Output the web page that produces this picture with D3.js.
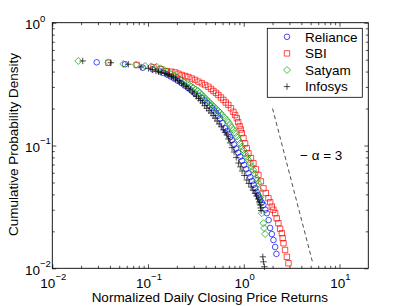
<!DOCTYPE html>
<html>
<head>
<meta charset="utf-8">
<script src="https://cdn.jsdelivr.net/npm/d3@7"></script>
<style>
  body { margin: 0; background: #fff; }
  svg { display: block; font-family: "Liberation Sans", Arial, Helvetica, sans-serif; }
</style>
</head>
<body>
<div id="container"></div>
<script>
/* CONSTANTS AND GLOBALS */
const width = 407,
  height = 306,
  margin = { top: 22.7, bottom: 37.7, left: 52.3, right: 38.7 },
  innerW = width - margin.left - margin.right,
  innerH = height - margin.top - margin.bottom,
  fontSize = 13.5;

/* DATA */
const seriesNames = ["Reliance", "SBI", "Satyam", "Infosys"];
const seriesColors = ["#0000ff", "#ff0000", "#00a000", "#000000"];

const reliance = [
  [0.0291, 0.476], [0.0575, 0.459], [0.0881, 0.430], [0.112, 0.417], [0.134, 0.401],
  [0.145, 0.390], [0.158, 0.379], [0.172, 0.365], [0.187, 0.351], [0.204, 0.337],
  [0.222, 0.323], [0.241, 0.308], [0.262, 0.294], [0.285, 0.280], [0.310, 0.265],
  [0.337, 0.254], [0.365, 0.244], [0.390, 0.233], [0.414, 0.222], [0.440, 0.212],
  [0.467, 0.202], [0.490, 0.193], [0.514, 0.184], [0.540, 0.175], [0.566, 0.166],
  [0.600, 0.152], [0.638, 0.138], [0.667, 0.131], [0.695, 0.124], [0.722, 0.117],
  [0.750, 0.111], [0.790, 0.102], [0.832, 0.0945], [0.873, 0.0875], [0.916, 0.0810],
  [0.960, 0.0750], [1.009, 0.0694], [1.06, 0.0642], [1.119, 0.0594], [1.17, 0.0553],
  [1.223, 0.0514], [1.27, 0.0480], [1.315, 0.0448], [1.36, 0.0420], [1.413, 0.0395],
  [1.45, 0.0377], [1.483, 0.0360], [1.545, 0.0343], [1.605, 0.0328], [1.68, 0.0300],
  [1.742, 0.0281], [1.819, 0.0247], [1.886, 0.0213], [1.964, 0.0190], [2.042, 0.0170],
  [2.128, 0.0149], [2.194, 0.0131]
];

const sbi = [
  [0.0385, 0.472], [0.0762, 0.452], [0.114, 0.433], [0.135, 0.418], [0.157, 0.404],
  [0.175, 0.399], [0.192, 0.394], [0.208, 0.384], [0.225, 0.375], [0.245, 0.368],
  [0.264, 0.361], [0.287, 0.351], [0.310, 0.342], [0.337, 0.331], [0.365, 0.321],
  [0.395, 0.311], [0.427, 0.301], [0.455, 0.289], [0.482, 0.278], [0.512, 0.268],
  [0.543, 0.258], [0.578, 0.246], [0.613, 0.235], [0.650, 0.224], [0.691, 0.214],
  [0.735, 0.201], [0.780, 0.188], [0.813, 0.177], [0.846, 0.167], [0.875, 0.155],
  [0.905, 0.144], [0.930, 0.135], [0.954, 0.126], [0.993, 0.115], [1.033, 0.104],
  [1.075, 0.095], [1.119, 0.0864], [1.19, 0.079], [1.262, 0.0716], [1.34, 0.064],
  [1.423, 0.0575], [1.51, 0.051], [1.605, 0.0448], [1.70, 0.041], [1.811, 0.0372],
  [1.89, 0.0345], [1.964, 0.0318], [2.04, 0.030], [2.128, 0.0281], [2.21, 0.0255],
  [2.30, 0.0233], [2.40, 0.021], [2.50, 0.0193], [2.55, 0.0176], [2.60, 0.0160],
  [2.70, 0.0141], [2.82, 0.0124], [2.93, 0.0110]
];

const satyam = [
  [0.0187, 0.488], [0.0385, 0.476], [0.0552, 0.461], [0.0750, 0.455], [0.0931, 0.444],
  [0.108, 0.441], [0.123, 0.438], [0.135, 0.425], [0.147, 0.412], [0.158, 0.400],
  [0.170, 0.387], [0.185, 0.373], [0.200, 0.360], [0.217, 0.344], [0.234, 0.329],
  [0.251, 0.320], [0.269, 0.311], [0.283, 0.302], [0.298, 0.294], [0.315, 0.286],
  [0.333, 0.278], [0.349, 0.268], [0.365, 0.258], [0.384, 0.248], [0.404, 0.239],
  [0.424, 0.230], [0.445, 0.222], [0.467, 0.214], [0.490, 0.206], [0.516, 0.198],
  [0.543, 0.191], [0.568, 0.184], [0.594, 0.177], [0.628, 0.169], [0.665, 0.161],
  [0.692, 0.154], [0.720, 0.147], [0.750, 0.140], [0.780, 0.134], [0.812, 0.126],
  [0.846, 0.118], [0.880, 0.111], [0.916, 0.104], [0.953, 0.098], [0.992, 0.0919],
  [1.033, 0.086], [1.076, 0.0810], [1.12, 0.0765], [1.165, 0.0720], [1.21, 0.0675],
  [1.253, 0.0632], [1.30, 0.0588], [1.347, 0.0544], [1.385, 0.052], [1.423, 0.0492],
  [1.44, 0.0434], [1.483, 0.0377], [1.50, 0.0338], [1.545, 0.0281], [1.605, 0.0233],
  [1.63, 0.0213], [1.672, 0.0190]
];

const infosys = [
  [0.0208, 0.488], [0.0408, 0.472], [0.0623, 0.459], [0.0846, 0.436], [0.101, 0.425],
  [0.111, 0.415], [0.121, 0.404], [0.129, 0.398], [0.137, 0.393], [0.151, 0.386],
  [0.158, 0.379], [0.166, 0.372], [0.175, 0.365], [0.184, 0.357], [0.194, 0.347],
  [0.204, 0.338], [0.214, 0.330], [0.225, 0.321], [0.237, 0.311], [0.250, 0.302],
  [0.262, 0.292], [0.275, 0.283], [0.289, 0.273], [0.303, 0.263], [0.319, 0.252],
  [0.336, 0.242], [0.354, 0.232], [0.372, 0.222], [0.391, 0.211], [0.411, 0.201],
  [0.433, 0.192], [0.456, 0.184], [0.479, 0.175], [0.502, 0.167], [0.527, 0.158],
  [0.553, 0.150], [0.583, 0.142], [0.613, 0.134], [0.638, 0.128], [0.665, 0.122],
  [0.692, 0.113], [0.720, 0.105], [0.755, 0.096], [0.793, 0.0885], [0.835, 0.080],
  [0.880, 0.0720], [0.92, 0.067], [0.961, 0.0620], [1.015, 0.057], [1.076, 0.0524],
  [1.13, 0.049], [1.194, 0.0459], [1.25, 0.0432], [1.315, 0.0408], [1.36, 0.0388],
  [1.413, 0.0367], [1.45, 0.0347], [1.483, 0.0328], [1.50, 0.031], [1.52, 0.0295],
  [1.582, 0.0124], [1.605, 0.0113], [1.644, 0.0103]
];

// slope -3 guide line
const guideLine = [[2.0, 0.2], [5.2, 0.0114]];
const guideLabel = "\u2212 \u03b1 = 3";

// axes
const xDomain = [0.01, 20];
const yDomain = [0.01, 1];
const xMajor = [0.01, 0.1, 1, 10];
const xMajorExp = ["\u22122", "\u22121", "0", "1"];
const xMinor = [0.02, 0.03, 0.04, 0.05, 0.06, 0.07, 0.08, 0.09,
  0.2, 0.3, 0.4, 0.5, 0.6, 0.7, 0.8, 0.9, 2, 3, 4, 5, 6, 7, 8, 9];
const yMajor = [0.01, 0.1, 1];
const yMajorExp = ["\u22122", "\u22121", "0"];
const yMinor = [0.02, 0.03, 0.04, 0.05, 0.06, 0.07, 0.08, 0.09,
  0.2, 0.3, 0.4, 0.5, 0.6, 0.7, 0.8, 0.9];

const xTitle = "Normalized Daily Closing Price Returns";
const yTitle = "Cumulative Probability Density";

/* MARKER SHAPES */
function markerPath(kind) {
  if (kind === 0) { const r = 2.8; return `M${r},0A${r},${r} 0 1,1 ${-r},0A${r},${r} 0 1,1 ${r},0Z`; }
  if (kind === 1) { const s = 2.7; return `M${-s},${-s}H${s}V${s}H${-s}Z`; }
  if (kind === 2) { const d = 3.5; return `M0,${-d}L${d},0L0,${d}L${-d},0Z`; }
  const p = 3.2; return `M${-p},0H${p}M0,${-p}V${p}`;
}

/* SCALES */
const xScale = d3.scaleLog().domain(xDomain).range([0, innerW]);
const yScale = d3.scaleLog().domain(yDomain).range([innerH, 0]);

/* SVG */
const svg = d3.select("#container").append("svg")
  .attr("width", width)
  .attr("height", height);

const g = svg.append("g")
  .attr("transform", `translate(${margin.left},${margin.top})`);

// + AXES (ticks point inward, on all four sides)
function tickAxis(axisFn, values, size, transform) {
  const a = g.append("g")
    .attr("transform", transform)
    .call(axisFn.tickValues(values).tickSize(-size).tickFormat(""));
  a.select(".domain").remove();
  a.selectAll(".tick line").attr("stroke", "#000").attr("stroke-width", 0.7);
  a.selectAll(".tick text").remove();
  return a;
}
tickAxis(d3.axisBottom(xScale), xMinor, 2.5, `translate(0,${innerH})`);
tickAxis(d3.axisTop(xScale), xMinor, 2.5, "translate(0,0)");
tickAxis(d3.axisLeft(yScale), yMinor, 2.5, "translate(0,0)");
tickAxis(d3.axisRight(yScale), yMinor, 2.5, `translate(${innerW},0)`);
tickAxis(d3.axisBottom(xScale), xMajor, 4, `translate(0,${innerH})`);
tickAxis(d3.axisTop(xScale), xMajor, 4, "translate(0,0)");
tickAxis(d3.axisLeft(yScale), yMajor, 4, "translate(0,0)");
tickAxis(d3.axisRight(yScale), yMajor, 4, `translate(${innerW},0)`);

// box
g.append("rect")
  .attr("width", innerW)
  .attr("height", innerH)
  .attr("fill", "none")
  .attr("stroke", "#000")
  .attr("stroke-width", 0.9);

// + TICK LABELS (10 with superscript)
const xLab = g.append("g").selectAll("text")
  .data(xMajor)
  .join("text")
  .attr("x", d => xScale(d) + 1)
  .attr("y", innerH + 19.5)
  .attr("text-anchor", "middle")
  .attr("font-size", fontSize);
xLab.append("tspan").text("10");
xLab.append("tspan").attr("dy", -7.5).attr("font-size", 9.5).text((d, i) => xMajorExp[i]);

const yLab = g.append("g").selectAll("text")
  .data(yMajor)
  .join("text")
  .attr("x", -27.3)
  .attr("y", d => yScale(d) + 6.5)
  .attr("text-anchor", "start")
  .attr("font-size", fontSize);
yLab.append("tspan").text("10");
yLab.append("tspan").attr("dy", -7.5).attr("font-size", 9.5).text((d, i) => yMajorExp[i]);

// axis titles
svg.append("text")
  .attr("x", margin.left + innerW / 2 - 0.5)
  .attr("y", 302.3)
  .attr("text-anchor", "middle")
  .attr("font-size", fontSize)
  .text(xTitle);

svg.append("text")
  .attr("transform", `translate(17.5,${margin.top + innerH / 2 - 1}) rotate(-90)`)
  .attr("text-anchor", "middle")
  .attr("font-size", fontSize)
  .text(yTitle);

// + GUIDE LINE
g.append("path")
  .datum(guideLine)
  .attr("d", d3.line().x(d => xScale(d[0])).y(d => yScale(d[1])))
  .attr("fill", "none")
  .attr("stroke", "#000")
  .attr("stroke-width", 0.7)
  .attr("stroke-dasharray", "4,3");

svg.append("text")
  .attr("x", 300)
  .attr("y", 160.3)
  .attr("font-size", fontSize)
  .text(guideLabel);

// + DATA MARKERS
const allSeries = [reliance, sbi, satyam, infosys];
allSeries.forEach((data, i) => {
  g.append("g")
    .selectAll("path")
    .data(data)
    .join("path")
    .attr("transform", d => `translate(${xScale(d[0])},${yScale(d[1])})`)
    .attr("d", markerPath(i))
    .attr("fill", "none")
    .attr("stroke", seriesColors[i])
    .attr("stroke-width", 0.7);
});

// + LEGEND
const legend = svg.append("g").attr("transform", "translate(267.3,28.3)");
legend.append("rect")
  .attr("width", 95)
  .attr("height", 69)
  .attr("fill", "#fff")
  .attr("stroke", "#000")
  .attr("stroke-width", 0.8);

const item = legend.selectAll(".item")
  .data(seriesNames)
  .join("g")
  .attr("class", "item")
  .attr("transform", (d, i) => `translate(0,${8.5 + i * 16.6})`);

item.append("path")
  .attr("transform", "translate(19.7,0)")
  .attr("d", (d, i) => markerPath(i))
  .attr("fill", "none")
  .attr("stroke", (d, i) => seriesColors[i])
  .attr("stroke-width", 0.7);

item.append("text")
  .attr("x", 37.7)
  .attr("y", 4.8)
  .attr("font-size", fontSize)
  .text(d => d);
</script>
</body>
</html>
